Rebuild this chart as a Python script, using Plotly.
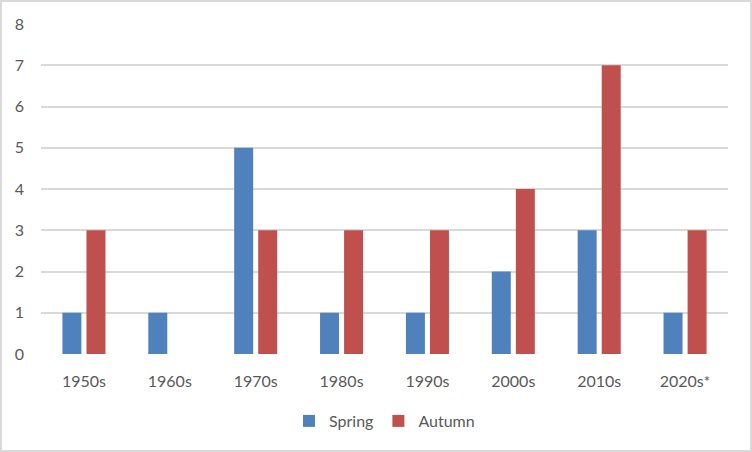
import plotly.graph_objects as go

categories = ["1950s", "1960s", "1970s", "1980s", "1990s", "2000s", "2010s", "2020s*"]
spring = [1, 1, 5, 1, 1, 2, 3, 1]
autumn = [3, 0, 3, 3, 3, 4, 7, 3]
y_ticks = [0, 1, 2, 3, 4, 5, 6, 7, 8]

W, H = 752, 452
ml, mr, mt, mb = 41, 24, 24, 98
font = dict(family="Lato, 'Liberation Sans', sans-serif", size=16, color="#595959")

fig = go.Figure()
fig.add_trace(go.Bar(x=categories, y=spring, name="Spring", marker=dict(color="#4F81BD", line=dict(width=0))))
fig.add_trace(go.Bar(x=categories, y=autumn, name="Autumn", marker=dict(color="#C0504D", line=dict(width=0))))

pw = W - ml - mr
ph = H - mt - mb
fig.add_shape(type="rect", xref="paper", yref="paper",
              x0=-(ml - 1) / pw, x1=1 + (mr - 1) / pw,
              y0=-(mb - 1) / ph, y1=1 + (mt - 1) / ph,
              line=dict(color="#D9D9D9", width=2), layer="below")

fig.update_layout(
    width=W, height=H,
    margin=dict(l=ml, r=mr, t=mt, b=mb, autoexpand=False),
    paper_bgcolor="white", plot_bgcolor="white",
    barmode="group", bargap=0.44, bargroupgap=0.21,
    font=font,
    showlegend=True,
    legend=dict(orientation="h", x=0.5, xanchor="center", y=-(421 - 354) / ph, yanchor="middle",
                font=dict(size=16, color="#595959"), itemwidth=30, traceorder="normal"),
    xaxis=dict(showgrid=False, showline=False, ticks="", tickfont=font, zeroline=False,
               ticklabelstandoff=16),
    yaxis=dict(range=[0, 8], tickvals=y_ticks, showgrid=True, gridcolor="#D9D9D9", gridwidth=2,
               zeroline=False, showline=False, ticks="", tickfont=font, ticklabelstandoff=16),
)
fig.write_html("out.html", config={"displayModeBar": False},
               post_script="document.body.style.margin='0px';")
